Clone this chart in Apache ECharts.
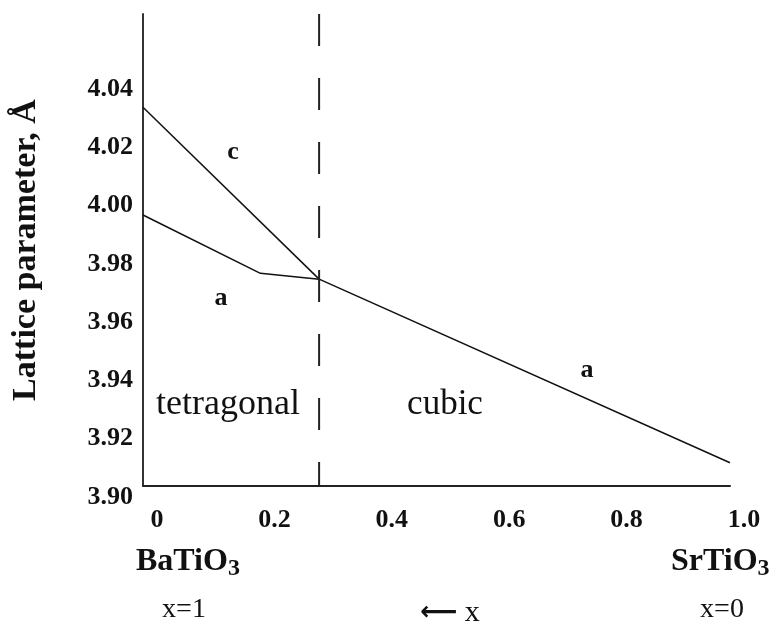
<!DOCTYPE html>
<html>
<head>
<meta charset="utf-8">
<script src="https://cdn.jsdelivr.net/npm/echarts@6/dist/echarts.min.js"></script>
<style>
html,body{margin:0;padding:0;background:#fff;}
#chart{width:770px;height:628px;}
</style>
</head>
<body>
<div id="chart"></div>
<script>
// ---- data ----
const xTicks = [0, 0.2, 0.4, 0.6, 0.8, 1.0];
const yTicks = [3.90, 3.92, 3.94, 3.96, 3.98, 4.00, 4.02, 4.04];
const cX = [0, 0.3];
const cY = [4.030, 3.971];
const aX = [0, 0.2, 0.3, 1.0];
const aY = [3.993, 3.973, 3.971, 3.908];
const boundaryX = 0.3;
const yTop = 4.062;

const serif = '"Liberation Serif", "Times New Roman", serif';
const chart = echarts.init(document.getElementById('chart'));

const option = {
  animation: false,
  backgroundColor: '#fff',
  grid: { left: 143, right: 40, top: 14, bottom: 142 },
  xAxis: {
    type: 'value', min: 0, max: 1, interval: 0.2,
    axisLine: { show: true, lineStyle: { color: '#222', width: 2 } },
    axisTick: { show: false },
    splitLine: { show: false },
    axisLabel: {
      margin: 21, fontFamily: serif, fontWeight: 'bold', fontSize: 26, color: '#111',
      padding: [0, 0, 0, 28],
      formatter: v => {
        const t = xTicks.find(k => Math.abs(k - v) < 1e-6);
        if (t === undefined) return '';
        return t === 0 ? '0' : t.toFixed(1);
      }
    }
  },
  yAxis: {
    type: 'value', min: yTicks[0], max: yTop, interval: 0.02,
    axisLine: { show: true, lineStyle: { color: '#333', width: 2 } },
    axisTick: { show: false },
    splitLine: { show: false },
    name: 'Lattice parameter, Å',
    nameLocation: 'middle',
    nameGap: 100,
    nameTextStyle: { fontFamily: serif, fontWeight: 'bold', fontSize: 34, color: '#111' },
    axisLabel: {
      margin: 10, fontFamily: serif, fontWeight: 'bold', fontSize: 26, color: '#111',
      verticalAlign: 'top', lineHeight: 22,
      formatter: v => {
        const t = yTicks.find(k => Math.abs(k - v) < 1e-6);
        return t === undefined ? '' : t.toFixed(2);
      }
    }
  },
  series: [
    {
      name: 'c', type: 'line', symbol: 'none',
      data: cX.map((x, i) => [x, cY[i]]),
      lineStyle: { color: '#111', width: 1.5 }
    },
    {
      name: 'a', type: 'line', symbol: 'none',
      data: aX.map((x, i) => [x, aY[i]]),
      lineStyle: { color: '#111', width: 1.5 }
    },
    {
      name: 'boundary', type: 'line', symbol: 'none',
      data: [[boundaryX, yTop], [boundaryX, yTicks[0]]],
      lineStyle: { color: '#222', width: 2, type: [32, 32] }
    }
  ],
  graphic: [
    { type: 'text', x: 233, y: 152, style: { text: 'c', font: 'bold 26px ' + serif, fill: '#111', align: 'center', verticalAlign: 'middle' } },
    { type: 'text', x: 221, y: 298, style: { text: 'a', font: 'bold 26px ' + serif, fill: '#111', align: 'center', verticalAlign: 'middle' } },
    { type: 'text', x: 587, y: 370, style: { text: 'a', font: 'bold 26px ' + serif, fill: '#111', align: 'center', verticalAlign: 'middle' } },
    { type: 'text', x: 228, y: 405, style: { text: 'tetragonal', font: '36px ' + serif, fill: '#111', align: 'center', verticalAlign: 'middle' } },
    { type: 'text', x: 445, y: 405, style: { text: 'cubic', font: '35px ' + serif, fill: '#111', align: 'center', verticalAlign: 'middle' } },
    { type: 'text', x: 136, y: 562, style: {
        text: '{m|BaTiO}{s|3}', align: 'left', verticalAlign: 'middle',
        rich: { m: { font: 'bold 32px ' + serif, fill: '#111' }, s: { font: 'bold 24px ' + serif, fill: '#111', padding: [14, 0, 0, 0] } }
    } },
    { type: 'text', x: 671, y: 562, style: {
        text: '{m|SrTiO}{s|3}', align: 'left', verticalAlign: 'middle',
        rich: { m: { font: 'bold 32px ' + serif, fill: '#111' }, s: { font: 'bold 24px ' + serif, fill: '#111', padding: [14, 0, 0, 0] } }
    } },
    { type: 'text', x: 184, y: 610, style: { text: 'x=1', font: '28px ' + serif, fill: '#111', align: 'center', verticalAlign: 'middle' } },
    { type: 'text', x: 420, y: 613, style: {
        text: '{ar|⟵}{t| x}', align: 'left', verticalAlign: 'middle',
        rich: { ar: { font: 'bold 26px "DejaVu Sans", sans-serif', fill: '#111' }, t: { font: '30px ' + serif, fill: '#111' } }
    } },
    { type: 'text', x: 722, y: 610, style: { text: 'x=0', font: '28px ' + serif, fill: '#111', align: 'center', verticalAlign: 'middle' } }
  ]
};
chart.setOption(option);
</script>
</body>
</html>
